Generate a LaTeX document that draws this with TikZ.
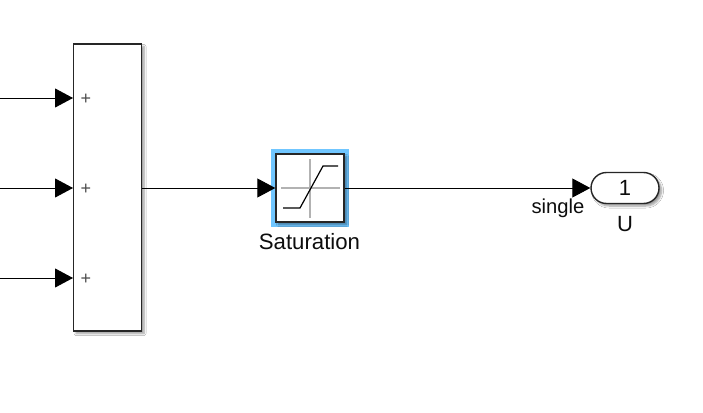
\documentclass[tikz,border=0pt]{standalone}
\usepackage{fontspec}
\setmainfont{Liberation Sans}
\usetikzlibrary{arrows.meta,shadows.blur}
\definecolor{hl}{HTML}{70C6FF}
\tikzset{
  x=1pt,y=-1pt,
  blockbox/.style={draw=black!85,line width=1.4pt,fill=white,inner sep=0pt,
    blur shadow={shadow xshift=2.5pt,shadow yshift=-2.5pt,shadow blur steps=6,shadow blur radius=2pt,shadow opacity=40}},
  signal/.style={line width=0.9pt,-{Triangle[length=18pt,width=19pt,sep=0pt]}},
  lab/.style={inner sep=0pt,text=black!95},
  plus/.style={inner sep=0pt,font=\fontsize{18}{18}\selectfont,text=black!70},
}
\begin{document}
\begin{tikzpicture}
\useasboundingbox (0,0) rectangle (703,412);
\fill[white] (0,0) rectangle (703,412);
% sum block
\node[blockbox,minimum width=68pt,minimum height=287pt] (sum) at (107.5,187.5) {};
\coordinate (p1) at (73,98);
\coordinate (p2) at (73,188);
\coordinate (p3) at (73,278);
\coordinate (s1) at (0,98);
\coordinate (s2) at (0,188);
\coordinate (s3) at (0,278);
\node[plus] (m1) at (86,99.5) {+};
\node[plus] (m2) at (86,189.5) {+};
\node[plus] (m3) at (86,279.5) {+};
% saturation
\fill[hl] (271,149) rectangle (348.5,227);
\node[blockbox,minimum width=68pt,minimum height=68pt] (sat) at (310,188) {};
\draw[black!30,line width=1.2pt] (281,188) -- (340,188) (310,159) -- (310,218);
\draw[black,line width=1.2pt] (283,208) -- (300,208) -- (323,166) -- (338,166);
\node[lab,font=\fontsize{22.2}{22.2}\selectfont] (satl) at (309.5,242) {Saturation};
% outport
\node[blockbox,rounded corners=15.5pt,minimum width=68pt,minimum height=31pt] (out) at (625,188) {};
\node[lab,font=\fontsize{22}{22}\selectfont] (one) at (625,188) {1};
\node[lab,font=\fontsize{22}{22}\selectfont] (ul) at (625,224) {U};
\node[lab,font=\fontsize{20.2}{20.2}\selectfont] (sig) at (558,208) {single};
% connectors
\draw[signal] (s1) -- (p1);
\draw[signal] (s2) -- (p2);
\draw[signal] (s3) -- (p3);
\draw[signal] (sum.east |- sat.west) -- (sat.west);
\draw[signal] (sat.east) -- (out.west);
\end{tikzpicture}
\end{document}
